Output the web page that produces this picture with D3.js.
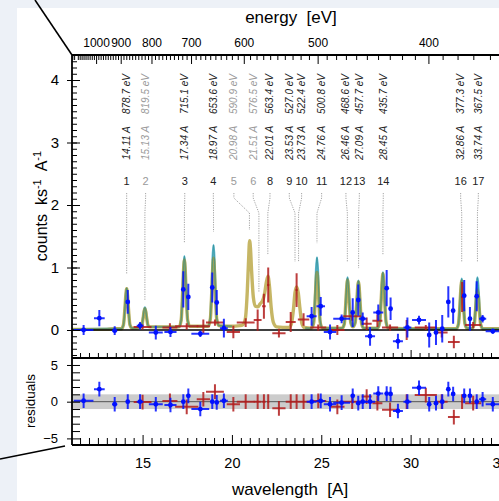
<!DOCTYPE html>
<html><head><meta charset="utf-8">
<script src="https://cdn.jsdelivr.net/npm/d3@7"></script>
<style>
body{margin:0;background:#edf1f7;overflow:hidden}
svg{display:block}
</style>
</head><body>
<svg id="c" width="499" height="501"></svg>
<script>
// ---------------- DATA ----------------
const lineNum = ["1","2","3","4","5","6","8","9","10","11","12","13","14","16","17"];
const lineWave = [14.11,15.13,17.34,18.97,20.98,21.51,22.01,23.53,23.73,24.76,26.46,27.09,28.45,32.86,33.74];
const lineWaveText = ["14.11","15.13","17.34","18.97","20.98","21.51","22.01","23.53","23.73","24.76","26.46","27.09","28.45","32.86","33.74"];
const lineEnergyText = ["878.7","819.5","715.1","653.6","590.9","576.5","563.4","527.0","522.4","500.8","468.6","457.7","435.7","377.3","367.5"];
const lineGray = [false,true,false,false,true,true,false,false,false,false,false,false,false,false,false];
const labelPos = [14.11,15.17,17.36,18.96,20.11,21.19,22.13,23.21,23.90,25.02,26.38,27.13,28.47,32.80,33.79];
const markerEnd = [0.90,0.48,1.39,1.57,1.60,0.61,1.20,1.09,1.09,1.39,1.09,0.99,1.20,1.09,1.09];

const energyTicks = [1000,900,800,700,600,500,400];
const xTicks = [15,20,25,30,35];
const yTicks = [0,1,2,3,4];
const resTicks = [-5,0,5];

// model 2 (thick olive)
const modelGold = [
[11.05,0.01],[13.0,0.01],[13.5,0.02],
[13.81,0.02],[13.93,0.084],[14.01,0.34],[14.06,0.55],[14.11,0.66],[14.16,0.55],[14.21,0.34],[14.29,0.084],[14.41,0.03],
[14.83,0.04],[14.95,0.07],[15.03,0.19],[15.08,0.29],[15.13,0.34],[15.18,0.29],[15.23,0.19],[15.31,0.07],[15.43,0.05],
[16.2,0.05],
[17.04,0.05],[17.16,0.16],[17.24,0.59],[17.29,0.94],[17.34,1.12],[17.39,0.94],[17.44,0.59],[17.52,0.16],[17.64,0.06],
[18.1,0.06],
[18.67,0.06],[18.79,0.17],[18.87,0.6],[18.92,0.96],[18.97,1.15],[19.02,0.96],[19.07,0.6],[19.15,0.17],[19.27,0.07],
[19.9,0.06],[20.45,0.07],
[20.6,0.08],[20.75,0.18],[20.86,0.62],[20.93,1.1],[20.99,1.43],[21.04,1.3],[21.1,0.95],[21.2,0.52],[21.32,0.38],[21.45,0.37],[21.58,0.42],[21.7,0.46],[21.82,0.57],[21.93,0.77],[22.02,0.86],[22.1,0.7],[22.2,0.35],[22.32,0.12],[22.5,0.05],
[23.2,0.04],[23.33,0.1],[23.45,0.35],[23.53,0.6],[23.62,0.69],[23.71,0.6],[23.8,0.36],[23.92,0.1],[24.05,0.04],
[24.46,0.03],[24.58,0.12],[24.66,0.48],[24.71,0.77],[24.76,0.92],[24.81,0.77],[24.86,0.48],[24.94,0.12],[25.06,0.03],
[25.8,0.03],
[26.17,0.03],[26.29,0.1],[26.37,0.42],[26.42,0.67],[26.47,0.8],[26.52,0.67],[26.57,0.42],[26.65,0.12],[26.77,0.05],
[26.9,0.12],[26.98,0.41],[27.03,0.65],[27.08,0.77],[27.13,0.65],[27.18,0.41],[27.26,0.1],[27.38,0.03],
[28.15,0.03],[28.27,0.12],[28.35,0.47],[28.4,0.75],[28.45,0.9],[28.5,0.75],[28.55,0.47],[28.63,0.12],[28.75,0.03],
[30.5,0.02],
[32.56,0.02],[32.68,0.1],[32.76,0.4],[32.81,0.65],[32.86,0.78],[32.91,0.65],[32.96,0.4],[33.04,0.1],[33.16,0.03],
[33.44,0.03],[33.56,0.09],[33.64,0.34],[33.69,0.54],[33.74,0.64],[33.79,0.54],[33.84,0.34],[33.92,0.09],[34.04,0.02],
[36.2,0.02]
];
// model 1 (thin teal), two pieces
const modelTealA = [
[11.05,0.01],[13.5,0.02],
[13.81,0.02],[13.93,0.085],[14.01,0.34],[14.06,0.56],[14.11,0.67],[14.16,0.56],[14.21,0.34],[14.29,0.085],[14.41,0.03],
[14.83,0.04],[14.95,0.07],[15.03,0.2],[15.08,0.31],[15.13,0.36],[15.18,0.31],[15.23,0.2],[15.31,0.07],[15.43,0.05],
[16.2,0.05],
[17.04,0.05],[17.16,0.16],[17.24,0.62],[17.29,0.99],[17.34,1.18],[17.39,0.99],[17.44,0.62],[17.52,0.16],[17.64,0.06],
[18.1,0.06],
[18.67,0.06],[18.79,0.19],[18.87,0.71],[18.92,1.14],[18.97,1.36],[19.02,1.14],[19.07,0.71],[19.15,0.19],[19.27,0.07],
[20.0,0.06]
];
const modelTealB = [
[24.1,0.03],[24.46,0.03],[24.58,0.15],[24.66,0.6],[24.71,0.97],[24.76,1.16],[24.81,0.97],[24.86,0.6],[24.94,0.15],[25.06,0.03],
[25.8,0.03],
[26.17,0.03],[26.29,0.1],[26.37,0.44],[26.42,0.7],[26.47,0.84],[26.52,0.7],[26.57,0.44],[26.65,0.12],[26.77,0.05],
[26.9,0.12],[26.98,0.42],[27.03,0.66],[27.08,0.79],[27.13,0.66],[27.18,0.42],[27.26,0.1],[27.38,0.03],
[28.15,0.03],[28.27,0.12],[28.35,0.48],[28.4,0.77],[28.45,0.92],[28.5,0.77],[28.55,0.48],[28.63,0.12],[28.75,0.03],
[30.5,0.02],
[32.56,0.02],[32.68,0.1],[32.76,0.42],[32.81,0.68],[32.86,0.82],[32.91,0.68],[32.96,0.42],[33.04,0.1],[33.16,0.03],
[33.44,0.03],[33.56,0.1],[33.64,0.44],[33.69,0.7],[33.74,0.84],[33.79,0.7],[33.84,0.44],[33.92,0.1],[34.04,0.02],
[36.2,0.02]
];

// blue data: [wavelength, counts, half-bin, error]
const blueData = [
[11.70,0.00,0.55,0.08],[12.58,0.19,0.30,0.13],[13.44,-0.01,0.14,0.07],[14.17,0.45,0.07,0.19],
[14.86,0.07,0.19,0.06],[15.74,-0.04,0.39,0.11],[16.56,-0.03,0.34,0.08],[17.28,0.65,0.06,0.29],
[17.56,0.53,0.06,0.21],[18.23,-0.06,0.50,0.05],[18.90,0.68,0.06,0.24],[19.15,0.44,0.06,0.20],
[19.55,0.03,0.22,0.15],[24.46,0.22,0.28,0.15],[24.97,0.38,0.24,0.15],[25.49,-0.03,0.35,0.12],
[26.14,0.18,0.47,0.07],[26.76,0.28,0.06,0.23],[27.07,0.48,0.06,0.25],[27.32,0.18,0.22,0.10],
[27.73,-0.10,0.28,0.15],[28.19,0.28,0.28,0.13],[28.66,0.67,0.06,0.29],[28.88,0.34,0.06,0.18],
[29.29,-0.18,0.28,0.12],[29.82,0.04,0.22,0.16],[30.47,0.16,0.39,0.07],[31.04,-0.08,0.06,0.20],
[31.42,-0.04,0.06,0.20],[31.77,0.02,0.06,0.22],[32.11,0.45,0.06,0.25],[32.38,0.31,0.06,0.21],
[33.00,0.55,0.06,0.25],[33.32,0.18,0.06,0.19],[33.70,0.54,0.06,0.24],[34.03,0.18,0.20,0.06],
[34.60,-0.02,0.40,0.04]
];
const blueResid = [0.13,1.7,-0.35,0.0,0.0,-0.35,-0.45,0.0,0.8,-1.0,0.0,-0.1,0.13,0.0,0.1,-0.35,-0.13,0.8,-0.2,0.0,0.0,1.1,1.1,1.05,-1.27,0.0,1.9,-0.35,-0.2,0.0,1.7,1.05,0.8,0.8,0.0,0.33,-0.35];

// red data
const redData = [
[15.00,0.05,0.50,0.04],[16.53,0.04,0.42,0.07],[17.47,0.06,0.65,0.05],[18.40,0.06,0.37,0.11],
[19.05,0.12,0.50,0.05],[20.08,-0.03,0.37,0.10],[20.77,0.12,0.50,0.07],[21.44,0.16,0.22,0.17],
[21.79,0.38,0.10,0.20],[22.03,0.72,0.06,0.28],[22.63,-0.05,0.37,0.07],[23.29,0.13,0.28,0.16],
[23.62,0.64,0.06,0.27],[24.01,0.17,0.32,0.10],[24.83,0.04,0.45,0.05],[25.90,0.00,0.40,0.08],
[26.73,0.22,0.50,0.07],[27.54,0.10,0.28,0.10],[28.14,0.15,0.28,0.10],[28.85,0.04,0.45,0.05],
[29.78,0.00,0.06,0.16],[30.85,0.04,0.62,0.04],[31.74,-0.04,0.33,0.08],[32.42,-0.19,0.33,0.10],
[32.88,0.53,0.06,0.24],[33.50,0.08,0.45,0.05]
];
const redResid = [-0.05,0.1,-0.7,0.33,1.37,-0.35,0.0,0.0,0.0,0.0,-0.9,0.0,0.0,0.0,0.1,-0.7,0.0,0.7,-0.2,-1.1,0.0,0.9,0.0,-2.1,0.0,-0.2];

// ---------------- DRAW ----------------
const svg = d3.select("#c");
const L = 72, T = 55, MID = 358, B = 445, R = 521.4;
const x = d3.scaleLinear().domain([11.05, 36.2]).range([L, R]);
const y = d3.scaleLinear().domain([-0.448, 4.4]).range([MID, T]);
const yr = d3.scaleLinear().domain([-5.9, 5.95]).range([B, MID]);
const HC = 12398.4; // eV*A
const narrow = "'Liberation Sans Narrow','Arial Narrow','Liberation Sans',sans-serif";
const sans = "'Liberation Sans',Arial,sans-serif";

// white figure area
svg.append("rect").attr("x",17).attr("y",8).attr("width",499).attr("height",501).attr("fill","#ffffff");

// zoom indicator lines
svg.append("line").attr("x1",35).attr("y1",0).attr("x2",L).attr("y2",T).attr("stroke","#000").attr("stroke-width",1.6);
svg.append("line").attr("x1",0).attr("y1",459).attr("x2",65).attr("y2",446).attr("stroke","#000").attr("stroke-width",1.6);

const defs = svg.append("defs");
defs.append("clipPath").attr("id","cm").append("rect").attr("x",L).attr("y",T).attr("width",R-L).attr("height",MID-T);
defs.append("clipPath").attr("id","cr").append("rect").attr("x",L).attr("y",MID).attr("width",R-L).attr("height",B-MID);

// residual band
const gr = svg.append("g").attr("clip-path","url(#cr)");
gr.append("rect").attr("x",L).attr("width",R-L).attr("y",yr(1)).attr("height",yr(-1)-yr(1)).attr("fill","#cccccc");
gr.append("line").attr("x1",L).attr("x2",R).attr("y1",yr(0)).attr("y2",yr(0)).attr("stroke","#555").attr("stroke-width",1);

// main panel
const gm = svg.append("g").attr("clip-path","url(#cm)");
const lineGen = d3.line().x(d=>x(d[0])).y(d=>y(d[1])).curve(d3.curveMonotoneX);
[modelTealA, modelTealB].forEach(arr=>{
  gm.append("path").datum(arr).attr("d",lineGen).attr("fill","none").attr("stroke","#4fb3cf").attr("stroke-width",2.4).attr("stroke-opacity",0.9).attr("stroke-linejoin","round");
});
gm.append("path").datum(modelGold).attr("d",lineGen).attr("fill","none").attr("stroke","#b09a2a").attr("stroke-width",3.4).attr("stroke-opacity",0.72).attr("stroke-linejoin","round");
[modelTealA, modelTealB].forEach(arr=>{
  gm.append("path").datum(arr).attr("d",lineGen).attr("fill","none").attr("stroke","#2c8a8a").attr("stroke-width",0.9).attr("stroke-opacity",0.7).attr("stroke-linejoin","round");
});
gm.append("line").attr("x1",L).attr("x2",R).attr("y1",y(0)).attr("y2",y(0)).attr("stroke","#000").attr("stroke-width",1.6);

function drawCross(g, data, yScale, yval, color, dot){
  const gg = g.append("g").attr("stroke",color).attr("stroke-opacity",0.85).attr("stroke-width",2);
  data.forEach((d,i)=>{
    const v = yval(d,i), e = yScale===y ? d[3] : 1;
    gg.append("line").attr("x1",x(d[0]-d[2])).attr("x2",x(d[0]+d[2])).attr("y1",yScale(v)).attr("y2",yScale(v));
    gg.append("line").attr("x1",x(d[0])).attr("x2",x(d[0])).attr("y1",yScale(v-e)).attr("y2",yScale(v+e));
    if(dot) gg.append("circle").attr("cx",x(d[0])).attr("cy",yScale(v)).attr("r",2.4).attr("fill",color).attr("stroke","none");
  });
}
drawCross(gm, redData, y, d=>d[1], "#b21c1c", false);
drawCross(gm, blueData, y, d=>d[1], "#0010ff", true);
drawCross(gr, redData, yr, (d,i)=>redResid[i], "#b21c1c", false);
drawCross(gr, blueData, yr, (d,i)=>blueResid[i], "#0010ff", true);

// line markers
const gl = svg.append("g");
lineWave.forEach((w,i)=>{
  const lx = x(labelPos[i]), px = x(w);
  const col = lineGray[i] ? "#9a9a9a" : "#222";
  gl.append("path").attr("d",`M${lx},193 L${lx},198 L${px},213 L${px},${y(markerEnd[i])}`)
    .attr("fill","none").attr("stroke","#999").attr("stroke-width",0.9).attr("stroke-dasharray","1.2,1.2");
  gl.append("text").attr("x",lx).attr("y",185).attr("text-anchor","middle").attr("fill",col)
    .style("font-family",narrow).style("font-size","11px").text(lineNum[i]);
  gl.append("text").attr("transform",`translate(${lx},143) rotate(-90)`).attr("text-anchor","middle").attr("dy","0.35em")
    .attr("fill",col).style("font-family",narrow).style("font-style","italic").style("font-size","10px").text(lineWaveText[i]+" A");
  gl.append("text").attr("transform",`translate(${lx},94) rotate(-90)`).attr("text-anchor","middle").attr("dy","0.35em")
    .attr("fill",col).style("font-family",narrow).style("font-style","italic").style("font-size","10px").text(lineEnergyText[i]+" eV");
});

// ---------------- AXES ----------------
function styleAxis(g, font, size){
  g.select(".domain").remove();
  g.selectAll("line").attr("stroke","#000").attr("stroke-width",1);
  g.selectAll("text").style("font-family",font).style("font-size",size).attr("fill","#000");
}
// top energy axis
const eMinor = d3.range(350,1130,10).filter(e=>e%100!==0).map(e=>HC/e);
svg.append("g").attr("transform",`translate(0,${T})`).call(d3.axisTop(x).tickValues(eMinor).tickSize(-5).tickFormat(""))
  .call(g=>styleAxis(g,sans,"10px"));
svg.append("g").attr("transform",`translate(0,${T})`)
  .call(d3.axisTop(x).tickValues(energyTicks.map(e=>HC/e)).tickSize(-9).tickPadding(8).tickFormat(l=>Math.round(HC/l)))
  .call(g=>styleAxis(g,narrow,"12px"));

// main-panel bottom ticks
const xMinor = d3.range(11.5,36.1,0.5).filter(v=>v%5!==0);
svg.append("g").attr("transform",`translate(0,${MID})`).call(d3.axisBottom(x).tickValues(xMinor).tickSize(-5).tickFormat("")).call(g=>styleAxis(g,sans,"10px"));
svg.append("g").attr("transform",`translate(0,${MID})`).call(d3.axisBottom(x).tickValues(xTicks).tickSize(-8).tickFormat("")).call(g=>styleAxis(g,sans,"10px"));
// residual bottom axis
svg.append("g").attr("transform",`translate(0,${B})`).call(d3.axisBottom(x).tickValues(xMinor).tickSize(-7).tickFormat("")).call(g=>styleAxis(g,sans,"10px"));
svg.append("g").attr("transform",`translate(0,${B})`).call(d3.axisBottom(x).tickValues(xTicks).tickSize(-10).tickPadding(13).tickFormat(d3.format("d")))
  .call(g=>styleAxis(g,sans,"14.5px"));

// main left axis
svg.append("g").attr("transform",`translate(${L},0)`).call(d3.axisLeft(y).tickValues(d3.range(-4,44,1).map(v=>v/10)).tickSize(-5).tickFormat("")).call(g=>styleAxis(g,sans,"10px"));
svg.append("g").attr("transform",`translate(${L},0)`).call(d3.axisLeft(y).tickValues(yTicks).tickSize(-8).tickFormat("")).call(g=>styleAxis(g,sans,"10px"));
svg.append("g").attr("transform",`translate(${L},0)`).call(d3.axisLeft(y).tickValues(yTicks).tickSize(5).tickPadding(8).tickFormat(d3.format("d")))
  .call(g=>styleAxis(g,sans,"15px"));
// residual left axis
svg.append("g").attr("transform",`translate(${L},0)`).call(d3.axisLeft(yr).tickValues(d3.range(-5,6,1)).tickSize(-8).tickFormat("")).call(g=>styleAxis(g,sans,"10px"));
svg.append("g").attr("transform",`translate(${L},0)`).call(d3.axisLeft(yr).tickValues(resTicks).tickSize(5).tickPadding(9).tickFormat(d3.format("d")))
  .call(g=>styleAxis(g,sans,"13px"));

// frame lines
const fr = svg.append("g").attr("stroke","#000").attr("stroke-width",1.8);
fr.append("line").attr("x1",L).attr("x2",L).attr("y1",T).attr("y2",B);
fr.append("line").attr("x1",L).attr("x2",R).attr("y1",T).attr("y2",T);
fr.append("line").attr("x1",L).attr("x2",R).attr("y1",MID).attr("y2",MID);
fr.append("line").attr("x1",L).attr("x2",R).attr("y1",B).attr("y2",B);

// titles
svg.append("text").attr("x",291).attr("y",23).attr("text-anchor","middle").attr("xml:space","preserve").style("font-family",sans).style("font-size","17px").text("energy  [eV]");
svg.append("text").attr("x",290).attr("y",495).attr("text-anchor","middle").attr("xml:space","preserve").style("font-family",sans).style("font-size","17px").text("wavelength  [A]");
const yl = svg.append("text").attr("transform","translate(47,206) rotate(-90)").attr("text-anchor","middle").attr("xml:space","preserve").style("font-family",sans).style("font-size","16px");
yl.append("tspan").text("counts  ks");
yl.append("tspan").attr("baseline-shift","super").style("font-size","11px").text("-1");
yl.append("tspan").text("  A");
yl.append("tspan").attr("baseline-shift","super").style("font-size","11px").text("-1");
svg.append("text").attr("transform","translate(35,401) rotate(-90)").attr("text-anchor","middle").style("font-family",sans).style("font-size","13.5px").text("residuals");
</script>
</body></html>
